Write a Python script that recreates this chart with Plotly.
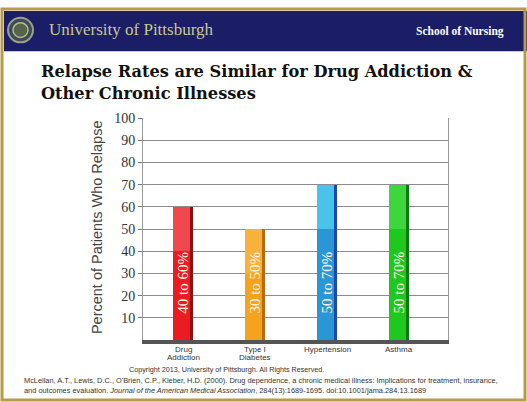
import plotly.graph_objects as go

categories = ["Drug<br>Addiction", "Type I<br>Diabetes", "Hypertension", "Asthma"]
low_values = [40, 30, 50, 50]
high_values = [60, 50, 70, 70]
range_labels = ["40 to 60%", "30 to 50%", "50 to 70%", "50 to 70%"]
y_ticks = [10, 20, 30, 40, 50, 60, 70, 80, 90, 100]

base_colors = ["#ea1c22", "#f5a21e", "#2a96d6", "#1ec81e"]
upper_colors = ["#f0484e", "#f8b23c", "#48c4ec", "#3ed63e"]
side_colors = ["#8a1014", "#b86a10", "#1c48b0", "#0c7a10"]

W, H = 527, 402
def px(x):
    return x / W
def py(y):
    return 1 - y / H

fig = go.Figure()
fig.add_trace(go.Bar(x=categories, y=low_values, width=0.28,
                     marker=dict(color=base_colors, line=dict(width=0)),
                     hoverinfo="skip", showlegend=False))
fig.add_trace(go.Bar(x=categories, y=[h - l for h, l in zip(high_values, low_values)],
                     base=low_values, width=0.28,
                     marker=dict(color=upper_colors, line=dict(width=0)),
                     hoverinfo="skip", showlegend=False))
fig.add_trace(go.Bar(x=categories, y=high_values, width=0.045, offset=0.095,
                     marker=dict(color=side_colors, line=dict(width=0)),
                     hoverinfo="skip", showlegend=False))

fig.update_layout(barmode="overlay")

for cat, lab in zip(categories, range_labels):
    fig.add_annotation(x=cat, y=26, xref="x", yref="y", text=lab, textangle=-90,
                       showarrow=False, font=dict(family="Liberation Serif", size=15, color="#fff6e6"))
    # category labels under the floor, one annotation per line
    for i, line in enumerate(cat.split("<br>")):
        fig.add_annotation(x=cat, y=py(349 + 8 * i), xref="x", yref="paper", text=line, yanchor="middle",
                           showarrow=False, font=dict(family="Liberation Sans", size=8, color="#333333"))

fig.update_xaxes(domain=[px(143), px(448)], range=[-0.56, 3.68], type="category",
                 showline=True, linecolor="#555555", linewidth=4, ticks="",
                 showticklabels=False, showgrid=False)
fig.update_yaxes(domain=[py(339), py(113)], range=[0, 100], tickvals=y_ticks,
                 showgrid=True, gridcolor="#8c8c8c", gridwidth=1,
                 showline=True, mirror=True, linecolor="#9a9a9a", linewidth=1,
                 ticks="outside", ticklen=4, tickcolor="#777777",
                 tickfont=dict(family="Liberation Serif", size=14, color="#333333"),
                 zeroline=False)

shapes = []
# gold frame
shapes.append(dict(type="rect", xref="paper", yref="paper", x0=px(2), x1=px(525), y0=py(400), y1=py(2),
                   line=dict(color="#b89a48", width=3), fillcolor="rgba(0,0,0,0)", layer="above"))
# header band
shapes.append(dict(type="rect", xref="paper", yref="paper", x0=px(4), x1=px(527), y0=py(45), y1=py(4),
                   line=dict(width=0), fillcolor="#1b1d66", layer="below"))
# logo
shapes.append(dict(type="circle", xref="paper", yref="paper", x0=px(8), x1=px(33), y0=py(36), y1=py(11),
                   line=dict(color="#9aa08a", width=2), fillcolor="#3c4a5a", layer="above"))
shapes.append(dict(type="circle", xref="paper", yref="paper", x0=px(13), x1=px(28), y0=py(31), y1=py(16),
                   line=dict(color="#b8b890", width=1.5), fillcolor="#55654a", layer="above"))
fig.update_layout(shapes=shapes)

ann = [
    dict(x=px(47), y=py(23), text="University of Pittsburgh", xanchor="left", yanchor="middle",
         font=dict(family="Liberation Serif", size=17, color="#c6c890")),
    dict(x=px(506), y=py(25), text="<b>School of Nursing</b>", xanchor="right", yanchor="middle",
         font=dict(family="Liberation Serif", size=11.5, color="#ffffff")),
    dict(x=px(39), y=py(66), text="<b>Relapse Rates are Similar for Drug Addiction &</b>", xanchor="left", yanchor="middle",
         font=dict(family="DejaVu Serif", size=16.2, color="#111111")),
    dict(x=px(39), y=py(88), text="<b>Other Chronic Illnesses</b>", xanchor="left", yanchor="middle",
         font=dict(family="DejaVu Serif", size=16.2, color="#111111")),
    dict(x=px(97), y=py(224), text="Percent of Patients Who Relapse", textangle=-90, xanchor="center", yanchor="middle",
         font=dict(family="Liberation Sans", size=14.5, color="#444444")),
    dict(x=px(226), y=py(369), text="Copyright 2013, University of Pittsburgh. All Rights Reserved.", xanchor="center", yanchor="middle",
         font=dict(family="Liberation Sans", size=7.2, color="#333333")),
    dict(x=px(22), y=py(380), text="McLellan, A.T., Lewis, D.C., O'Brien, C.P., Kleber, H.D. (2000). Drug dependence, a chronic medical illness: Implications for treatment, insurance,",
         xanchor="left", yanchor="middle", font=dict(family="Liberation Sans", size=7.4, color="#333333")),
    dict(x=px(22), y=py(390), text="and outcomes evaluation. <i>Journal of the American Medical Association</i>, 284(13):1689-1695. doi:10.1001/jama.284.13.1689",
         xanchor="left", yanchor="middle", font=dict(family="Liberation Sans", size=7.4, color="#333333")),
]
for a in ann:
    a.update(xref="paper", yref="paper", showarrow=False)
    fig.add_annotation(**a)

fig.update_layout(width=W, height=H, margin=dict(l=0, r=0, t=0, b=0),
                  paper_bgcolor="#ffffff", plot_bgcolor="#ffffff", bargap=0)

fig.write_html("out.html")
